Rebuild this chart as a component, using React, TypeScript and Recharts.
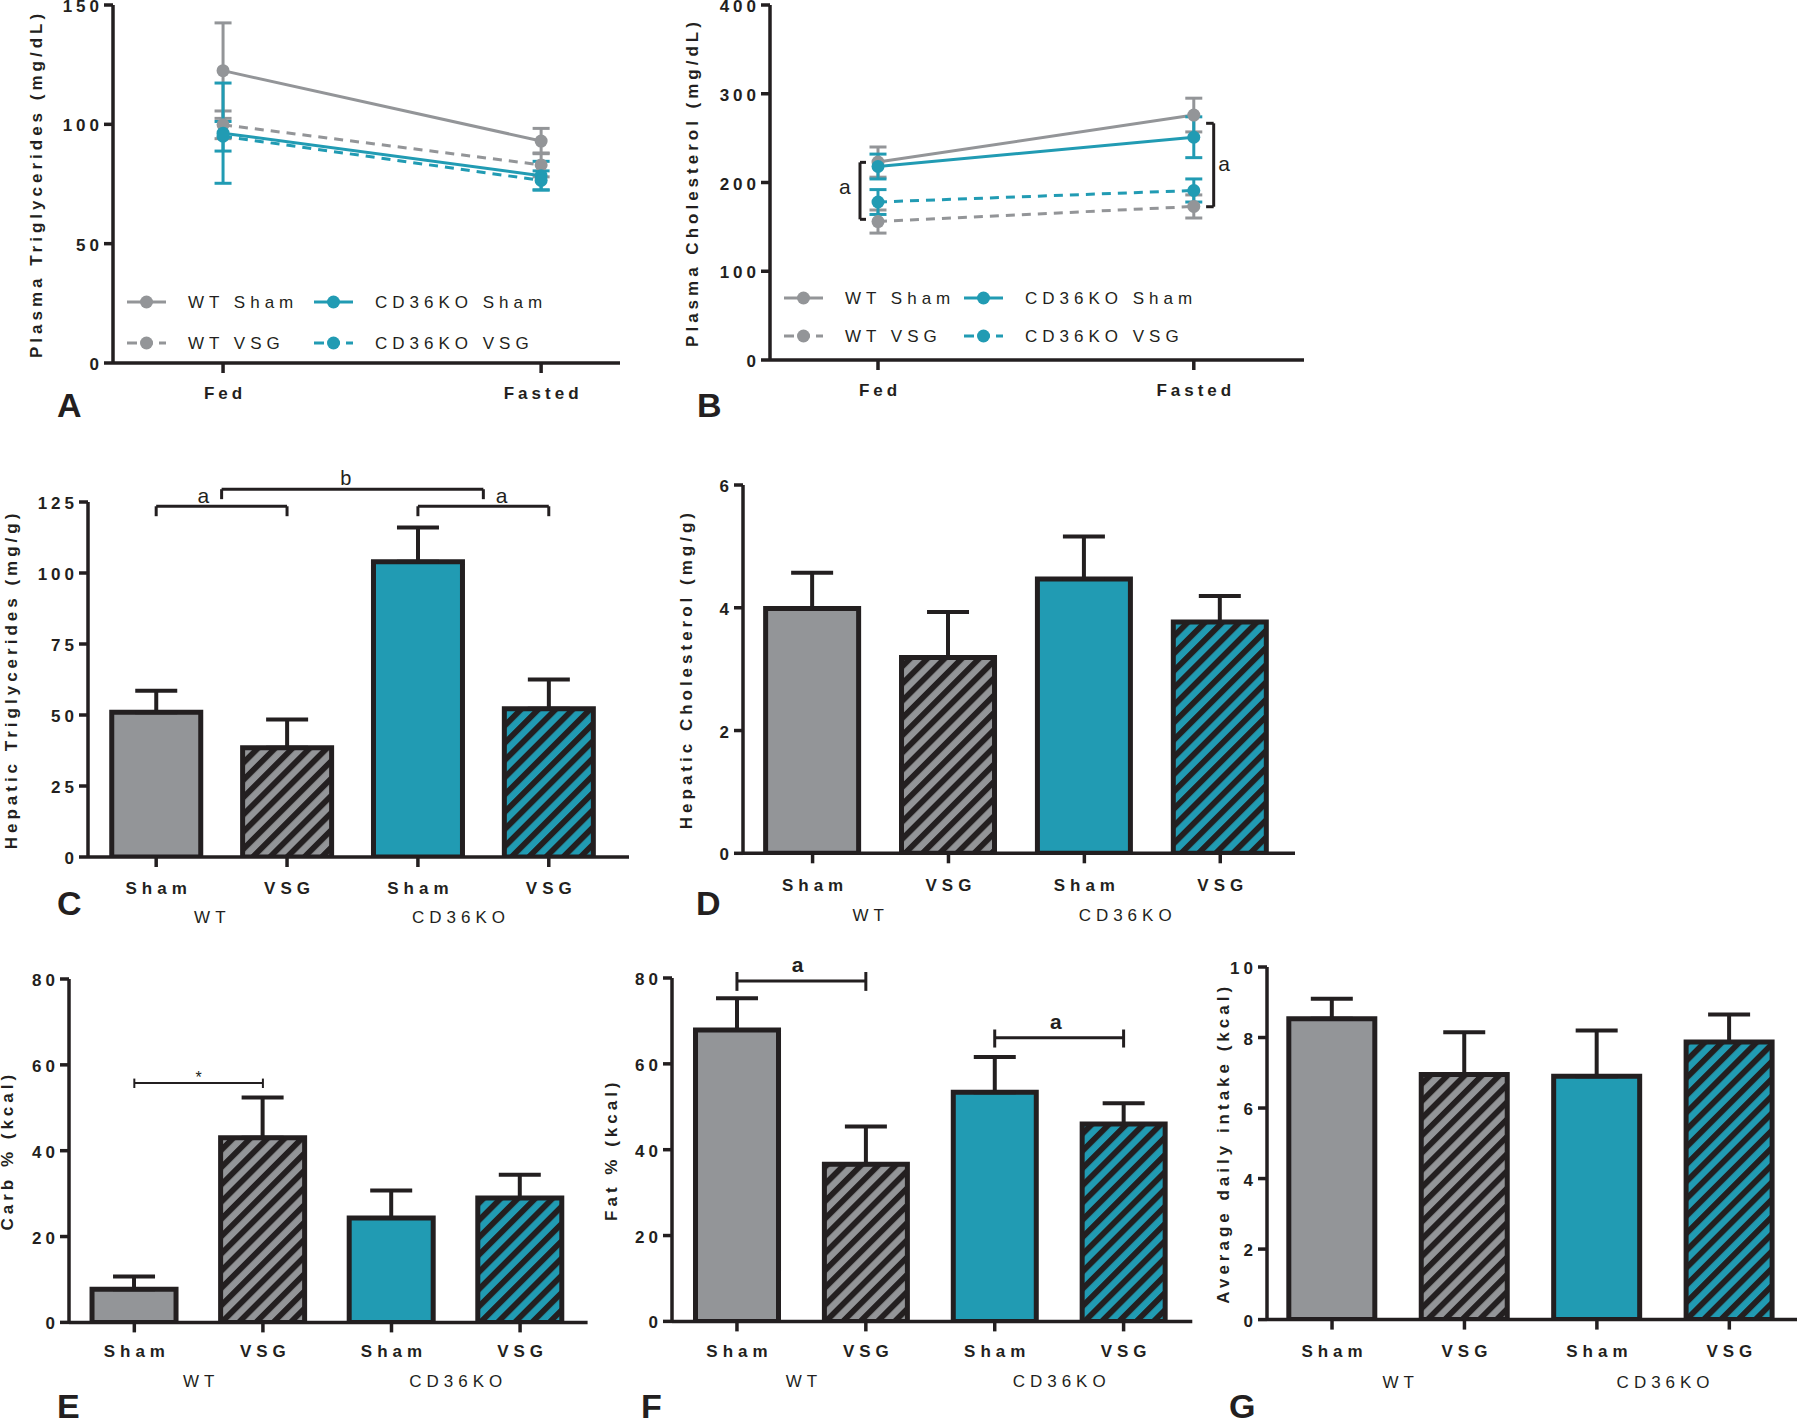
import {
  BarChart,
  Bar,
  Cell,
  LineChart,
  Line,
  XAxis,
  YAxis,
  ErrorBar,
  ReferenceLine,
  ReferenceDot,
  Legend
} from 'recharts'

const INK = '#231f20'
const GRAY = '#939598'
const TEAL = '#219bb3'
const FONT = '"Liberation Sans", Arial, Helvetica, sans-serif'

// ---- A / B: plasma lipids, fed vs fasted
const timepoints = ['Fed', 'Fasted']
const timeX = [0, 1]

const tgWtSham = [122.5, 93]
const tgWtShamSem = [20, 5.3]
const tgWtVsg = [99.8, 83]
const tgWtVsgSem = [5.8, 5]
const tgKoSham = [96.3, 78.5]
const tgKoShamSem = [21, 6]
const tgKoVsg = [95, 76.5]
const tgKoVsgSem = [6.2, 4]

const cholWtSham = [223, 276]
const cholWtShamSem = [17, 19]
const cholWtVsg = [156, 173]
const cholWtVsgSem = [13, 13]
const cholKoSham = [218, 251]
const cholKoShamSem = [14, 23]
const cholKoVsg = [178, 191]
const cholKoVsgSem = [14, 13]

// ---- C..G: four groups
const barX = [0, 1, 2, 3]
const treatments = ['Sham', 'VSG', 'Sham', 'VSG']
const genotypes = ['WT', 'CD36KO']

const hepTg = [51, 38.5, 104, 52.2]
const hepTgSem = [7.5, 9.9, 12, 10.3]
const hepChol = [3.99, 3.19, 4.47, 3.77]
const hepCholSem = [0.58, 0.74, 0.69, 0.42]
const carbPct = [7.7, 43, 24.3, 29]
const carbPctSem = [3, 9.4, 6.4, 5.4]
const fatPct = [67.9, 36.6, 53.4, 46]
const fatPctSem = [7.4, 8.8, 8.2, 4.8]
const intake = [8.53, 6.95, 6.9, 7.87]
const intakeSem = [0.57, 1.2, 1.3, 0.78]

const lineSeries = [
  { key: 'wtSham', name: 'WT Sham', color: GRAY, dashed: false },
  { key: 'wtVsg', name: 'WT VSG', color: GRAY, dashed: true },
  { key: 'koSham', name: 'CD36KO Sham', color: TEAL, dashed: false },
  { key: 'koVsg', name: 'CD36KO VSG', color: TEAL, dashed: true }
]

const tgRows = timepoints.map((t, i) => ({
  x: timeX[i],
  wtSham: tgWtSham[i], wtShamErr: tgWtShamSem[i],
  wtVsg: tgWtVsg[i], wtVsgErr: tgWtVsgSem[i],
  koSham: tgKoSham[i], koShamErr: tgKoShamSem[i],
  koVsg: tgKoVsg[i], koVsgErr: tgKoVsgSem[i]
}))

const cholRows = timepoints.map((t, i) => ({
  x: timeX[i],
  wtSham: cholWtSham[i], wtShamErr: cholWtShamSem[i],
  wtVsg: cholWtVsg[i], wtVsgErr: cholWtVsgSem[i],
  koSham: cholKoSham[i], koShamErr: cholKoShamSem[i],
  koVsg: cholKoVsg[i], koVsgErr: cholKoVsgSem[i]
}))

const axisStyle = { stroke: INK, strokeWidth: 3.5 }
const Y_AXIS_W = 100
const MARGIN_R = 6

function frameBox(f: any) {
  return {
    left: f.axisX - Y_AXIS_W,
    top: f.yTop - f.padTop,
    width: f.right - f.axisX + Y_AXIS_W + MARGIN_R,
    height: f.yBase - f.yTop + f.padTop + f.xAxisH,
    margin: { top: f.padTop, right: MARGIN_R, bottom: 0, left: 0 }
  }
}

const YTick = (props: any) => (
  <text
    x={props.x}
    y={props.y}
    dy={1.5}
    textAnchor='end'
    dominantBaseline='central'
    fontSize={17}
    fontWeight='bold'
    letterSpacing={4}
    fill={INK}
  >
    {props.payload.value}
  </text>
)

const xTick = (labels: string[], positions: number[], bold: boolean, spacing: number) =>
  (props: any) => (
    <text
      x={props.x + spacing / 2}
      y={props.y}
      dy='0.71em'
      textAnchor='middle'
      fontSize={17}
      fontWeight={bold ? 'bold' : 'normal'}
      letterSpacing={spacing}
      fill={INK}
    >
      {labels[positions.indexOf(props.payload.value)]}
    </text>
  )

const yLabel = (text: string, dist: number) => (props: any) => {
  const vb = props.viewBox
  const cx = vb.x + vb.width - dist
  const cy = vb.y + vb.height / 2
  return (
    <text
      x={cx}
      y={cy}
      transform={`rotate(-90 ${cx} ${cy})`}
      textAnchor='middle'
      dominantBaseline='central'
      fontSize={17}
      fontWeight='bold'
      letterSpacing={4}
      fill={INK}
    >
      {text}
    </text>
  )
}

function LegendGrid({ colGap, rowGap }: any) {
  return (
    <svg width={480} height={rowGap + 30} style={{ overflow: 'visible' }}>
      {lineSeries.map((s, i) => {
        const x0 = 8 + (i < 2 ? 0 : colGap)
        const y = 15 + (i % 2) * rowGap
        return (
          <g key={s.key}>
            <line
              x1={x0}
              x2={x0 + 39}
              y1={y}
              y2={y}
              stroke={s.color}
              strokeWidth={3}
              strokeDasharray={s.dashed ? '10 6' : undefined}
            />
            <circle cx={x0 + 19.5} cy={y} r={6.5} fill={s.color} />
            <text x={x0 + 61} y={y} dominantBaseline='central' fontSize={17} letterSpacing={5} fill={INK}>
              {s.name}
            </text>
          </g>
        )
      })}
    </svg>
  )
}

// annotations: brackets and letters, in data units
const seg = (k: string, x1: number, y1: number, x2: number, y2: number, w = 3) => (
  <ReferenceLine
    key={k}
    segment={[{ x: x1, y: y1 }, { x: x2, y: y2 }]}
    stroke={INK}
    strokeWidth={w}
    ifOverflow='visible'
  />
)

const note = (k: string, x: number, y: number, text: string, size: number, bold = false) => (
  <ReferenceDot
    key={k}
    x={x}
    y={y}
    r={0}
    ifOverflow='visible'
    shape={(p: any) => (
      <text
        x={p.cx}
        y={p.cy}
        textAnchor='middle'
        dominantBaseline='central'
        fontSize={size}
        fontWeight={bold ? 'bold' : 'normal'}
        fill={INK}
      >
        {text}
      </text>
    )}
  />
)

function LinePanel({ frame, rows, xDomain, yDomain, yTicks, label, labelDist, legendAt, children }: any) {
  const box = frameBox(frame)
  return (
    <div style={{ position: 'absolute', left: box.left, top: box.top }}>
      <LineChart width={box.width} height={box.height} data={rows} margin={box.margin}>
        <XAxis
          dataKey='x'
          type='number'
          domain={xDomain}
          ticks={timeX}
          interval={0}
          allowDataOverflow
          height={frame.xAxisH}
          tickSize={10}
          tickMargin={14}
          axisLine={axisStyle}
          tickLine={axisStyle}
          tick={xTick(timepoints, timeX, true, 4)}
        />
        <YAxis
          type='number'
          domain={yDomain}
          ticks={yTicks}
          interval={0}
          allowDataOverflow
          width={Y_AXIS_W}
          tickSize={9}
          tickMargin={1}
          axisLine={axisStyle}
          tickLine={axisStyle}
          tick={<YTick />}
          label={{ content: yLabel(label, labelDist) }}
        />
        {lineSeries.map((s) => (
          <Line
            key={s.key}
            dataKey={s.key}
            name={s.name}
            stroke={s.color}
            strokeWidth={3}
            strokeDasharray={s.dashed ? '9 7' : undefined}
            dot={{ r: 6.5, fill: s.color, stroke: 'none' }}
            activeDot={false}
            isAnimationActive={false}
          >
            <ErrorBar dataKey={s.key + 'Err'} width={8.5} stroke={s.color} strokeWidth={3} direction='y' />
          </Line>
        ))}
        <Legend
          layout='horizontal'
          verticalAlign='middle'
          align='center'
          wrapperStyle={{
            left: legendAt.x - 8 - box.left,
            top: legendAt.y - 15 - box.top,
            width: 480,
            height: legendAt.rowGap + 30
          }}
          content={() => <LegendGrid colGap={legendAt.colGap} rowGap={legendAt.rowGap} />}
        />
        {children}
      </LineChart>
    </div>
  )
}

function BarPanel({ id, frame, means, sems, xDomain, yDomain, yTicks, label, labelDist, barSize, tickMargin, groupPos, groupMargin, children }: any) {
  const box = frameBox(frame)
  const rows = barX.map((p, i) => ({ x: p, mean: means[i], err: [0, sems[i]] }))
  const fills = [GRAY, `url(#${id}-hg)`, TEAL, `url(#${id}-ht)`]
  return (
    <div style={{ position: 'absolute', left: box.left, top: box.top }}>
      <BarChart width={box.width} height={box.height} data={rows} margin={box.margin}>
        <defs>
          <pattern id={`${id}-hg`} patternUnits='userSpaceOnUse' width={12.2} height={12.2} patternTransform='rotate(45)'>
            <rect width={12.2} height={12.2} fill={GRAY} />
            <rect width={5.8} height={12.2} fill={INK} />
          </pattern>
          <pattern id={`${id}-ht`} patternUnits='userSpaceOnUse' width={12.2} height={12.2} patternTransform='rotate(45)'>
            <rect width={12.2} height={12.2} fill={TEAL} />
            <rect width={5.8} height={12.2} fill={INK} />
          </pattern>
        </defs>
        <XAxis
          dataKey='x'
          type='number'
          domain={xDomain}
          ticks={barX}
          interval={0}
          allowDataOverflow
          height={40}
          tickSize={10}
          tickMargin={tickMargin}
          axisLine={axisStyle}
          tickLine={axisStyle}
          tick={xTick(treatments, barX, true, 5)}
        />
        <XAxis
          xAxisId='grp'
          dataKey='x'
          type='number'
          domain={xDomain}
          ticks={groupPos}
          interval={0}
          allowDataOverflow
          height={frame.xAxisH - 40}
          tickSize={0}
          tickMargin={groupMargin}
          axisLine={false}
          tickLine={false}
          tick={xTick(genotypes, groupPos, false, 5)}
        />
        <YAxis
          type='number'
          domain={yDomain}
          ticks={yTicks}
          interval={0}
          allowDataOverflow
          width={Y_AXIS_W}
          tickSize={9}
          tickMargin={1}
          axisLine={axisStyle}
          tickLine={axisStyle}
          tick={<YTick />}
          label={{ content: yLabel(label, labelDist) }}
        />
        <Bar dataKey='mean' barSize={barSize} stroke={INK} strokeWidth={5} isAnimationActive={false}>
          {rows.map((r, i) => (
            <Cell key={i} fill={fills[i]} />
          ))}
          <ErrorBar dataKey='err' width={21} stroke={INK} strokeWidth={4} direction='y' />
        </Bar>
        {children}
      </BarChart>
    </div>
  )
}

const panelLetters = [
  { t: 'A', x: 57, y: 417 },
  { t: 'B', x: 697, y: 417 },
  { t: 'C', x: 57, y: 915 },
  { t: 'D', x: 696, y: 915 },
  { t: 'E', x: 57, y: 1418 },
  { t: 'F', x: 641, y: 1418 },
  { t: 'G', x: 1229, y: 1418 }
]

export default function App() {
  return (
    <div
      style={{
        position: 'absolute',
        left: 0,
        top: 0,
        width: 1800,
        height: 1422,
        background: '#fff',
        fontFamily: FONT,
        overflow: 'hidden'
      }}
    >
      <LinePanel
        frame={{ axisX: 113, right: 620, yTop: 5, yBase: 363, padTop: 12, xAxisH: 45 }}
        rows={tgRows}
        xDomain={[-0.346, 1.248]}
        yDomain={[0, 150]}
        yTicks={[0, 50, 100, 150]}
        label='Plasma Triglycerides (mg/dL)'
        labelDist={77}
        legendAt={{ x: 127, y: 302, colGap: 187, rowGap: 41 }}
      />
      <LinePanel
        frame={{ axisX: 770, right: 1304, yTop: 5, yBase: 360, padTop: 12, xAxisH: 45 }}
        rows={cholRows}
        xDomain={[-0.342, 1.349]}
        yDomain={[0, 400]}
        yTicks={[0, 100, 200, 300, 400]}
        label='Plasma Cholesterol (mg/dL)'
        labelDist={78}
        legendAt={{ x: 784, y: 298, colGap: 180, rowGap: 38 }}
      >
        {seg('bl', -0.057, 158.5, -0.057, 222.7)}
        {seg('bl1', -0.057, 222.7, -0.038, 222.7)}
        {seg('bl2', -0.057, 158.5, -0.038, 158.5)}
        {note('bla', -0.105, 195.7, 'a', 21)}
        {seg('br', 1.063, 172.7, 1.063, 266.7)}
        {seg('br1', 1.063, 266.7, 1.039, 266.7)}
        {seg('br2', 1.063, 172.7, 1.039, 172.7)}
        {note('bra', 1.096, 221.4, 'a', 21)}
      </LinePanel>

      <BarPanel
        id='c'
        frame={{ axisX: 88, right: 629, yTop: 501.7, yBase: 856.7, padTop: 40, xAxisH: 85 }}
        means={hepTg}
        sems={hepTgSem}
        xDomain={[-0.521, 3.613]}
        yDomain={[0, 125]}
        yTicks={[0, 25, 50, 75, 100, 125]}
        label='Hepatic Triglycerides (mg/g)'
        labelDist={77}
        barSize={89}
        tickMargin={15}
        groupPos={[0.41, 2.31]}
        groupMargin={14}
      >
        {seg('c1', 0, 123.5, 1, 123.5)}
        {seg('c1l', 0, 123.5, 0, 120)}
        {seg('c1r', 1, 123.5, 1, 120)}
        {note('c1t', 0.36, 127.4, 'a', 21)}
        {seg('c2', 0.5, 129.5, 2.5, 129.5)}
        {seg('c2l', 0.5, 129.5, 0.5, 126)}
        {seg('c2r', 2.5, 129.5, 2.5, 126)}
        {note('c2t', 1.45, 133.4, 'b', 20)}
        {seg('c3', 2, 123.5, 3, 123.5)}
        {seg('c3l', 2, 123.5, 2, 120)}
        {seg('c3r', 3, 123.5, 3, 120)}
        {note('c3t', 2.64, 127.4, 'a', 21)}
      </BarPanel>

      <BarPanel
        id='d'
        frame={{ axisX: 743, right: 1295, yTop: 485, yBase: 853.3, padTop: 12, xAxisH: 85 }}
        means={hepChol}
        sems={hepCholSem}
        xDomain={[-0.512, 3.55]}
        yDomain={[0, 6]}
        yTicks={[0, 2, 4, 6]}
        label='Hepatic Cholesterol (mg/g)'
        labelDist={56}
        barSize={93}
        tickMargin={16}
        groupPos={[0.41, 2.3]}
        groupMargin={16}
      />

      <BarPanel
        id='e'
        frame={{ axisX: 69.4, right: 588, yTop: 979.3, yBase: 1322.7, padTop: 12, xAxisH: 85 }}
        means={carbPct}
        sems={carbPctSem}
        xDomain={[-0.508, 3.525]}
        yDomain={[0, 80]}
        yTicks={[0, 20, 40, 60, 80]}
        label='Carb % (kcal)'
        labelDist={61}
        barSize={84}
        tickMargin={13}
        groupPos={[0.5, 2.5]}
        groupMargin={13}
      >
        {seg('e1', 0, 55.8, 1, 55.8, 2)}
        {seg('e1l', 0, 56.8, 0, 54.6, 2)}
        {seg('e1r', 1, 56.8, 1, 54.6, 2)}
        {note('e1t', 0.5, 57.0, '*', 16)}
      </BarPanel>

      <BarPanel
        id='f'
        frame={{ axisX: 671.7, right: 1192, yTop: 978.3, yBase: 1321.7, padTop: 28, xAxisH: 85 }}
        means={fatPct}
        sems={fatPctSem}
        xDomain={[-0.504, 3.533]}
        yDomain={[0, 80]}
        yTicks={[0, 20, 40, 60, 80]}
        label='Fat % (kcal)'
        labelDist={60}
        barSize={83}
        tickMargin={14}
        groupPos={[0.5, 2.5]}
        groupMargin={14}
      >
        {seg('f1', 0, 79.3, 1, 79.3)}
        {seg('f1l', 0, 81.4, 0, 77)}
        {seg('f1r', 1, 81.4, 1, 77)}
        {note('f1t', 0.47, 83.1, 'a', 21, true)}
        {seg('f2', 2, 66.1, 3, 66.1)}
        {seg('f2l', 2, 68, 2, 63.8)}
        {seg('f2r', 3, 68, 3, 63.8)}
        {note('f2t', 2.475, 69.9, 'a', 21, true)}
      </BarPanel>

      <BarPanel
        id='g'
        frame={{ axisX: 1267, right: 1797, yTop: 966.7, yBase: 1319.3, padTop: 12, xAxisH: 85 }}
        means={intake}
        sems={intakeSem}
        xDomain={[-0.491, 3.511]}
        yDomain={[0, 10]}
        yTicks={[0, 2, 4, 6, 8, 10]}
        label='Average daily intake (kcal)'
        labelDist={44}
        barSize={86}
        tickMargin={15}
        groupPos={[0.5, 2.5]}
        groupMargin={16}
      />

      <svg
        width={1800}
        height={1422}
        style={{ position: 'absolute', left: 0, top: 0, pointerEvents: 'none' }}
      >
        {panelLetters.map((p) => (
          <text key={p.t} x={p.x} y={p.y} fontSize={34} fontWeight='bold' fill={INK}>
            {p.t}
          </text>
        ))}
      </svg>
    </div>
  )
}
